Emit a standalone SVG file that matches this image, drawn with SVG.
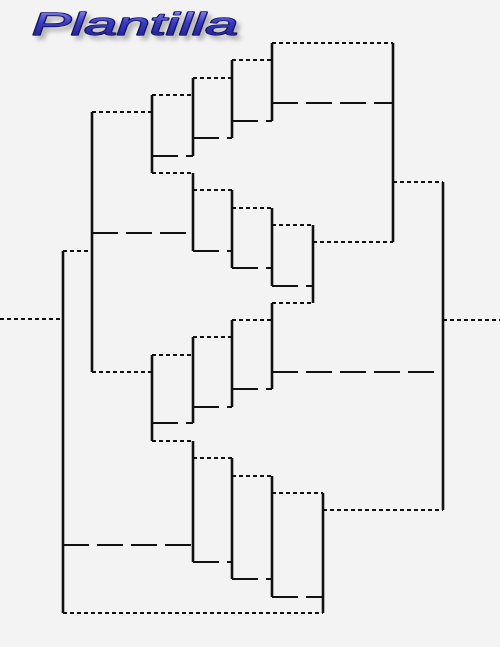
<svg xmlns="http://www.w3.org/2000/svg" width="500" height="647" viewBox="0 0 500 647">
<defs>
<linearGradient id="tg" x1="0" y1="0" x2="0" y2="1">
<stop offset="0" stop-color="#9a9af2"/>
<stop offset="0.45" stop-color="#3a3abf"/>
<stop offset="1" stop-color="#1a1a80"/>
</linearGradient>
<filter id="sh" x="-10%" y="-40%" width="125%" height="190%">
<feGaussianBlur in="SourceAlpha" stdDeviation="2"/>
<feOffset dx="4" dy="4" result="b"/>
<feFlood flood-color="#808080" flood-opacity="0.55"/>
<feComposite in2="b" operator="in" result="s"/>
<feMerge><feMergeNode in="s"/><feMergeNode in="SourceGraphic"/></feMerge>
</filter>
</defs>
<style>
.v{stroke:#111;stroke-width:2.6;fill:none}
.d{stroke:#111;stroke-width:2;stroke-dasharray:4 3;fill:none}
.s{stroke:#111;stroke-width:2;stroke-dasharray:26 8;fill:none}
.t{font-family:"Liberation Sans",Arial,sans-serif;font-style:italic;font-size:31px}
</style>
<rect width="500" height="647" fill="#f3f3f3"/>
<g id="title">
<text class="t" x="32" y="35" textLength="206" lengthAdjust="spacingAndGlyphs" fill="url(#tg)" stroke="#12126a" stroke-width="1.6" stroke-linejoin="round" paint-order="stroke" filter="url(#sh)">Plantilla</text>
</g>
<g id="brackets">
<line id="b1" class="v" x1="63" y1="251" x2="63" y2="613"/>
<line id="b2" class="v" x1="92" y1="112" x2="92" y2="372"/>
<line id="b3" class="v" x1="152" y1="95" x2="152" y2="173"/>
<line id="b4" class="v" x1="193" y1="78" x2="193" y2="156"/>
<line id="b5" class="v" x1="232" y1="60" x2="232" y2="138"/>
<line id="b6" class="v" x1="272" y1="43" x2="272" y2="121"/>
<line id="b7" class="v" x1="393" y1="43" x2="393" y2="242"/>
<line id="b8" class="v" x1="443" y1="182" x2="443" y2="510"/>
<line id="b9" class="v" x1="193" y1="173" x2="193" y2="251"/>
<line id="b10" class="v" x1="232" y1="190" x2="232" y2="268"/>
<line id="b11" class="v" x1="272" y1="208" x2="272" y2="286"/>
<line id="b12" class="v" x1="313" y1="225" x2="313" y2="303"/>
<line id="b13" class="v" x1="152" y1="355" x2="152" y2="441"/>
<line id="b14" class="v" x1="193" y1="337" x2="193" y2="423"/>
<line id="b15" class="v" x1="232" y1="320" x2="232" y2="407"/>
<line id="b16" class="v" x1="272" y1="303" x2="272" y2="389"/>
<line id="b17" class="v" x1="193" y1="441" x2="193" y2="562"/>
<line id="b18" class="v" x1="232" y1="458" x2="232" y2="579"/>
<line id="b19" class="v" x1="272" y1="476" x2="272" y2="597"/>
<line id="b20" class="v" x1="323" y1="493" x2="323" y2="613"/>
</g>
<g id="connectors">
<g class="d">
<line x1="0" y1="319" x2="63" y2="319"/>
<line x1="63" y1="251" x2="92" y2="251"/>
<line x1="92" y1="112" x2="152" y2="112"/>
<line x1="152" y1="95" x2="193" y2="95"/>
<line x1="193" y1="78" x2="232" y2="78"/>
<line x1="232" y1="60" x2="272" y2="60"/>
<line x1="272" y1="43" x2="393" y2="43"/>
<line x1="152" y1="173" x2="193" y2="173"/>
<line x1="193" y1="190" x2="232" y2="190"/>
<line x1="232" y1="208" x2="272" y2="208"/>
<line x1="272" y1="225" x2="313" y2="225"/>
<line x1="313" y1="242" x2="393" y2="242"/>
<line x1="393" y1="182" x2="443" y2="182"/>
<line x1="443" y1="320" x2="500" y2="320"/>
<line x1="92" y1="372" x2="152" y2="372"/>
<line x1="152" y1="355" x2="193" y2="355"/>
<line x1="193" y1="337" x2="232" y2="337"/>
<line x1="232" y1="320" x2="272" y2="320"/>
<line x1="272" y1="303" x2="313" y2="303"/>
<line x1="152" y1="441" x2="193" y2="441"/>
<line x1="193" y1="458" x2="232" y2="458"/>
<line x1="232" y1="476" x2="272" y2="476"/>
<line x1="272" y1="493" x2="323" y2="493"/>
<line x1="323" y1="510" x2="443" y2="510"/>
<line x1="63" y1="613" x2="323" y2="613"/>
</g>
<g class="s">
<line x1="152" y1="156" x2="193" y2="156"/>
<line x1="193" y1="138" x2="232" y2="138"/>
<line x1="232" y1="121" x2="272" y2="121"/>
<line x1="272" y1="103" x2="393" y2="103"/>
<line x1="92" y1="233" x2="193" y2="233"/>
<line x1="193" y1="251" x2="232" y2="251"/>
<line x1="232" y1="268" x2="272" y2="268"/>
<line x1="272" y1="286" x2="313" y2="286"/>
<line x1="272" y1="372" x2="443" y2="372"/>
<line x1="152" y1="423" x2="193" y2="423"/>
<line x1="193" y1="407" x2="232" y2="407"/>
<line x1="232" y1="389" x2="272" y2="389"/>
<line x1="63" y1="545" x2="193" y2="545"/>
<line x1="193" y1="562" x2="232" y2="562"/>
<line x1="232" y1="579" x2="272" y2="579"/>
<line x1="272" y1="597" x2="323" y2="597"/>
</g>
</g>
</svg>
